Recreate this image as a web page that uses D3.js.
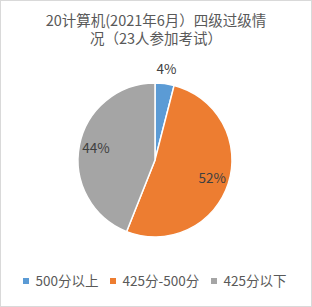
<!DOCTYPE html>
<html>
<head>
<meta charset="utf-8">
<script src="https://cdn.jsdelivr.net/npm/d3@7"></script>
<style>
  body { margin: 0; background: #fff; }
  svg { display: block; font-family: "Noto Sans CJK SC", "Noto Sans", sans-serif; }
</style>
</head>
<body>
<div id="chart"></div>
<script>
// share of the 23 students, in percent
let categories = ["500分以上", "425分-500分", "425分以下"];
let shares = [4, 52, 44];
let colors = ["#5B9BD5", "#ED7D31", "#A5A5A5"];
let titleLines = ["20计算机(2021年6月）四级过级情", "况（23人参加考试）"];

let width = 312, height = 307;
let cx = 155, cy = 160, radius = 77;

let svg = d3.select("#chart").append("svg")
  .attr("width", width)
  .attr("height", height);

svg.append("rect")
  .attr("x", 0.5).attr("y", 0.5)
  .attr("width", width - 1).attr("height", height - 1)
  .attr("fill", "#fff")
  .attr("stroke", "#d9d9d9");

// title, one text with a line per tspan
let title = svg.append("text")
  .attr("class", "title")
  .attr("text-anchor", "middle")
  .attr("font-size", 14.5)
  .attr("fill", "#595959");

title.selectAll("tspan")
  .data(titleLines)
  .enter()
  .append("tspan")
  .attr("x", width / 2)
  .attr("y", (d, i) => 26 + i * 18)
  .text(d => d);

let total = d3.sum(shares);
let pie = d3.pie().sort(null).value(d => d)(shares);
let arc = d3.arc().innerRadius(0).outerRadius(radius);

let g = svg.append("g").attr("transform", "translate(" + cx + "," + cy + ")");

g.selectAll("path")
  .data(pie)
  .enter()
  .append("path")
  .attr("d", arc)
  .attr("fill", (d, i) => colors[i])
  .attr("stroke", "#fff")
  .attr("stroke-width", 1.5);

// labels - small slice goes outside
let inner = d3.arc().innerRadius(radius * 0.78).outerRadius(radius * 0.78);
let outer = d3.arc().innerRadius(radius + 14).outerRadius(radius + 14);

g.selectAll(".label")
  .data(pie)
  .enter()
  .append("text")
  .attr("class", "label")
  .attr("transform", d => {
    let p = (d.value / total < 0.1 ? outer : inner).centroid(d);
    return "translate(" + p[0] + "," + p[1] + ")";
  })
  .attr("text-anchor", "middle")
  .attr("dy", "0.35em")
  .attr("font-size", 13.5)
  .attr("fill", "#404040")
  .text(d => Math.round(d.value / total * 100) + "%");

// legend
let legendX = [23, 110, 211];
let legend = svg.selectAll(".legend")
  .data(categories)
  .enter()
  .append("g")
  .attr("class", "legend")
  .attr("transform", (d, i) => "translate(" + legendX[i] + ",281)");

legend.append("rect")
  .attr("x", 0).attr("y", -3)
  .attr("width", 6).attr("height", 6)
  .attr("fill", (d, i) => colors[i]);

legend.append("text")
  .attr("x", 12.5)
  .attr("dy", "0.35em")
  .attr("font-size", 13.5)
  .attr("fill", "#595959")
  .text(d => d);
</script>
</body>
</html>
